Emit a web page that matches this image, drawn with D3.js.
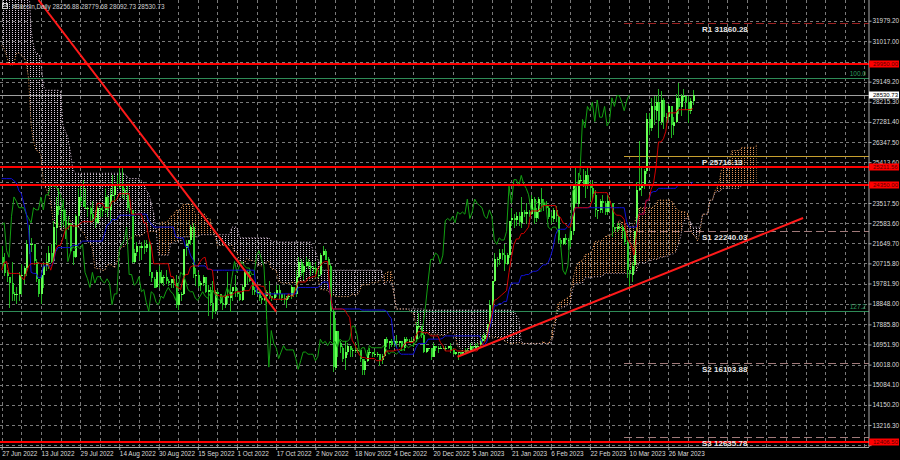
<!DOCTYPE html>
<html><head><meta charset="utf-8">
<script src="https://cdn.jsdelivr.net/npm/d3@7"></script>
<style>
html,body{margin:0;padding:0;background:#000;}
svg{display:block;}
text{font-family:"Liberation Sans",Arial,sans-serif;}
</style></head><body>
<svg id="c" width="900" height="460"></svg>
<script>
// ---------------- DATA (daily bars, thousands of USD) ----------------
const firstDate = "2022-04-10";     // first bar held in the arrays (needed for Ichimoku)
const windowStart = "2022-06-27";   // first bar shown on the chart
const highK = [
 43.4,42.4,40.7,41.5,41.5,40.7,40.7,40.6,41.0,41.7,42.2,42.9,40.8,39.9,39.8,40.6,40.8,39.4,40.3,39.9,38.8,
 38.6,39.1,38.6,39.9,39.8,36.6,36.1,35.5,34.2,32.6,32.0,30.0,31.0,30.3,31.4,31.3,30.8,30.6,30.5,30.7,29.6,30.4,30.6,29.8,30.2,29.8,29.3,29.2,29.5,32.0,32.2,
 31.9,30.6,30.6,29.9,30.1,31.7,31.5,31.3,30.6,30.3,29.4,28.5,26.9,23.0,22.7,22.9,21.3,20.8,20.7,21.0,21.7,20.8,21.2,21.5,21.5,21.8,
 21.5,21.2,20.4,20.1,
 20.8,19.4,19.6,20.3,20.7,20.6,21.8,22.5,21.9,21.6,20.9,20.0,20.2,20.8,21.2,21.5,21.6,22.7,23.8,24.2,23.4,23.7,23.0,22.9,22.6,21.3,23.0,24.2,24.4,24.6,24.2,
 23.4,23.4,23.6,23.2,23.4,23.3,23.4,24.2,23.9,24.2,24.8,24.4,24.8,25.2,25.2,24.2,24.4,23.6,23.2,21.4,21.7,21.5,21.7,21.8,21.8,21.8,20.3,20.1,20.4,20.6,20.4,
 20.2,20.4,20.0,20.0,20.1,20.2,19.4,19.4,21.4,21.8,21.8,22.5,22.6,20.5,20.3,19.9,20.2,20.1,19.7,19.6,19.9,19.5,19.5,19.3,19.2,19.3,20.3,19.7,19.6,20.2,
 19.5,19.4,19.7,20.4,20.4,20.4,20.0,19.6,19.5,19.5,19.2,19.2,19.5,19.9,19.2,19.4,19.7,19.7,19.3,19.3,19.2,19.3,19.7,19.6,20.4,21.0,20.9,20.7,21.0,20.9,20.8,
 20.6,20.8,20.4,21.2,21.5,21.4,21.0,20.7,18.6,18.1,17.6,17.1,16.9,17.1,17.0,16.9,16.8,17.0,16.8,16.7,16.3,16.3,16.7,16.8,16.6,16.7,16.6,16.5,16.5,17.2,
 17.3,17.1,17.2,17.2,17.4,17.1,17.1,17.3,17.3,17.2,17.3,17.2,18.0,18.4,17.8,17.5,16.8,16.8,16.8,17.0,16.9,16.9,16.9,16.9,16.9,16.9,17.0,16.8,16.6,16.6,16.6,
 16.6,16.8,16.8,17.0,16.9,17.0,17.0,17.2,17.4,17.5,17.9,19.0,19.9,21.2,21.0,21.4,21.4,21.6,21.2,22.7,23.3,23.0,23.1,23.1,23.8,23.2,23.5,23.2,23.9,23.8,23.3,
 23.8,24.2,23.7,23.6,23.4,23.1,23.3,23.4,22.9,21.9,21.9,22.1,21.9,22.3,24.4,25.2,24.9,24.8,25.1,25.0,25.2,24.5,24.6,24.1,23.2,23.7,23.9,23.6,
 23.9,23.8,23.5,22.4,22.6,22.6,22.5,22.3,21.8,20.4,20.8,22.2,24.5,26.4,25.2,25.1,27.7,27.7,28.4,28.5,28.5,28.8,28.7,28.4,27.7,28.1,28.0,27.5,28.6,29.1,28.6,
 28.8,28.5,28.5,28.4,28.77968
];
const lowK = [
 42.0,39.2,39.3,39.6,39.6,39.8,40.0,39.6,38.6,40.6,40.9,39.8,39.2,39.3,39.2,38.2,37.7,37.9,38.9,38.2,37.6,
 37.4,38.1,37.5,37.6,35.6,35.3,34.8,33.7,30.0,29.9,27.9,26.7,28.8,28.7,29.5,29.2,29.5,28.6,28.7,28.8,29.0,29.3,28.9,28.6,29.3,28.3,28.3,28.5,28.8,29.3,31.2,
 29.5,29.6,29.4,29.5,29.5,29.9,29.2,29.9,30.0,28.9,28.2,26.6,22.3,20.8,20.1,20.3,20.2,17.6,19.0,19.7,20.4,19.8,19.9,20.9,20.9,21.0,
 20.5,20.2,19.9,18.7,
 19.0,19.0,18.9,19.0,19.3,19.8,20.2,21.2,21.3,20.7,19.9,19.2,18.9,19.6,20.4,20.5,20.8,20.8,21.6,23.0,22.4,22.5,21.9,22.3,21.3,20.7,21.0,22.6,23.4,23.5,23.3,
 22.9,22.7,22.7,22.4,22.6,22.9,22.9,23.1,22.9,22.7,23.9,23.6,24.3,24.2,23.8,23.7,23.2,23.1,20.8,20.8,21.1,20.9,20.9,21.2,21.3,20.2,19.9,19.6,19.6,19.6,19.8,
 19.7,19.8,19.7,19.6,19.6,18.7,18.6,19.0,19.3,21.1,21.4,21.6,20.1,19.7,19.6,19.5,19.7,19.4,18.3,18.8,18.2,18.4,18.6,18.9,18.6,18.7,18.9,18.5,19.0,19.2,
 19.2,19.0,19.0,19.5,19.8,19.9,19.3,19.3,19.3,19.0,18.9,19.0,18.2,19.1,19.0,19.1,19.2,19.1,19.0,18.9,18.7,19.1,19.1,19.2,19.2,20.1,20.2,20.0,20.6,20.5,20.2,
 20.3,20.1,20.1,20.2,21.1,20.9,20.4,17.2,15.7,15.8,16.4,16.6,16.2,15.8,16.5,16.4,16.4,16.6,16.6,16.2,15.6,15.6,16.2,16.5,16.4,16.4,16.4,16.0,16.1,16.4,
 16.9,16.8,16.9,16.9,16.9,16.9,16.7,16.7,17.1,17.1,17.1,16.9,17.1,17.7,17.3,16.6,16.6,16.7,16.3,16.4,16.7,16.6,16.8,16.8,16.7,16.8,16.6,16.5,16.5,16.3,16.5,
 16.5,16.6,16.6,16.7,16.8,16.8,16.9,16.9,17.1,17.1,17.3,17.9,18.7,19.9,20.6,20.7,20.9,20.4,20.7,21.0,22.5,22.4,22.5,22.5,22.4,22.9,22.6,22.9,23.0,22.6,22.7,
 22.8,23.4,23.2,23.3,22.8,22.6,22.7,22.7,21.7,21.5,21.6,21.6,21.4,21.5,22.1,23.5,23.4,24.5,24.3,23.8,24.2,23.6,23.7,22.9,22.8,23.1,23.1,23.0,
 23.0,23.2,22.0,22.2,22.2,22.3,21.9,21.6,20.1,19.6,19.9,20.4,21.9,24.1,23.9,24.2,24.9,26.7,26.9,27.2,27.4,26.6,27.2,27.0,27.3,27.4,26.6,26.7,27.3,27.7,27.6,
 28.3,27.9,27.3,27.7,28.09273
];
const closeK = [
 42.2,39.5,40.1,41.1,39.9,40.5,40.4,39.7,40.8,41.5,41.4,40.5,39.7,39.5,39.5,40.4,38.1,39.2,39.7,38.6,37.7,
 38.5,38.5,37.7,39.7,36.6,36.0,35.5,34.0,30.1,31.0,29.1,29.0,29.3,29.9,31.3,29.9,30.4,28.7,30.3,29.2,29.4,30.3,29.1,29.7,29.5,29.2,28.6,29.0,29.4,31.7,31.8,
 29.8,30.5,29.7,29.9,29.9,31.4,31.1,30.2,30.1,29.1,28.4,26.6,22.5,22.2,22.6,20.4,20.5,19.0,20.6,20.6,20.7,20.0,21.1,21.2,21.5,21.0,
 20.7,20.3,20.1,19.8,
 19.3,19.3,19.3,20.2,20.2,20.5,21.6,21.6,21.6,20.8,20.0,19.3,20.2,20.6,20.8,21.2,20.8,22.4,23.4,23.2,23.2,22.7,22.5,22.6,21.3,21.0,22.9,23.8,23.6,23.3,23.3,
 23.3,23.0,22.8,22.6,23.3,23.2,23.2,23.8,23.2,23.9,23.9,24.4,24.3,24.3,24.1,23.9,23.3,23.2,20.8,21.2,21.5,21.4,21.5,21.4,21.6,20.3,20.0,19.6,20.3,19.8,20.1,
 20.1,19.9,19.8,20.0,19.8,18.8,19.3,19.3,21.4,21.6,21.8,22.4,20.2,20.2,19.7,19.8,20.1,19.4,19.5,18.9,18.5,19.4,19.3,18.9,18.8,19.2,19.1,19.4,19.6,19.4,
 19.3,19.0,19.6,20.3,20.2,19.9,19.5,19.4,19.4,19.1,19.0,19.2,19.4,19.2,19.1,19.3,19.5,19.3,19.1,19.0,19.2,19.2,19.6,19.3,20.1,20.8,20.3,20.6,20.8,20.6,20.5,
 20.5,20.2,20.2,21.1,21.3,20.9,20.6,18.5,15.9,17.6,17.0,16.8,16.3,16.6,16.9,16.7,16.7,16.7,16.7,16.3,15.8,16.2,16.6,16.6,16.5,16.5,16.5,16.2,16.4,17.2,
 17.0,17.1,16.9,17.1,17.0,17.1,16.8,17.2,17.1,17.1,17.1,17.2,17.8,17.8,17.4,16.6,16.8,16.8,16.4,16.9,16.8,16.8,16.8,16.8,16.8,16.9,16.7,16.5,16.6,16.6,16.5,
 16.6,16.7,16.7,16.9,16.8,16.9,16.9,17.1,17.2,17.4,17.9,18.8,19.9,20.9,20.9,21.2,21.1,20.7,21.1,22.7,22.8,22.7,22.9,22.6,23.1,23.0,23.1,23.0,23.7,22.8,23.1,
 23.7,23.5,23.4,23.3,22.9,22.8,23.2,22.9,21.8,21.6,21.9,21.8,21.8,22.2,24.3,23.5,24.6,24.6,24.3,24.8,24.4,24.2,23.9,23.2,23.2,23.6,23.5,23.1,
 23.6,23.5,22.4,22.3,22.4,22.4,22.2,21.7,20.4,20.2,20.6,22.2,24.1,24.2,24.4,25.0,27.4,27.0,28.0,27.8,28.2,27.3,28.3,27.5,27.5,28.0,27.1,27.3,28.4,28.0,28.5,
 28.5,28.2,27.8,28.25688,28.53073
];
const headerText = "#Bitcoin,Daily  28256.88 28779.68 28092.73 28530.73";
const lastPrice = 28530.73;
const priceTicks = [31979.20,31017.00,30083.10,29149.20,28215.30,27281.40,26347.50,25413.60,24479.70,23517.50,22583.60,21649.70,20715.80,19781.90,18848.00,17885.80,16951.90,16018.00,15084.10,14150.20,13216.30,12282.40];
const dateLabels = ["27 Jun 2022","13 Jul 2022","29 Jul 2022","14 Aug 2022","30 Aug 2022","15 Sep 2022","1 Oct 2022","17 Oct 2022","2 Nov 2022","18 Nov 2022","4 Dec 2022","20 Dec 2022","5 Jan 2023","21 Jan 2023","6 Feb 2023","22 Feb 2023","10 Mar 2023","26 Mar 2023"];
const redLevels = [29950.00, 25211.56, 24350.00, 12406.50];
const fibNames = ["100.0","127.2"];
const fibLevels = [29306, 18505];
const pivotNames = ["R1","P","S1","S2","S3"];
const pivotValues = [31860.28, 25716.13, 22240.03, 16103.88, 12635.78];
const pivotStart = "2023-03-08";
const trendDown = [["2022-07-12", 32940], ["2022-10-17", 18474]];
const trendUp = [["2022-12-30", 16385], ["2023-05-20", 22822]];

// ---------------- SETUP ----------------
const parse = d3.utcParse("%Y-%m-%d");
const OFF = d3.utcDay.count(parse(firstDate), parse(windowStart));
const barOf = s => d3.utcDay.count(parse(windowStart), parse(s));
const highs = highK.map(v => v*1000), lows = lowK.map(v => v*1000), closes = closeK.map(v => v*1000);
const N = closes.length;

const PR = 869, PB = 447; // plot right / bottom
const x = d3.scaleLinear().domain([0, 272]).range([1.7, 668.3]);
const y = d3.scaleLinear().domain([31979.2, 12282.4]).range([20.7, 445.1]);
const px = v => Math.round(v) + 0.5;

const svg = d3.select("#c");
svg.append("rect").attr("width", 900).attr("height", 460).attr("fill", "#000");
const defs = svg.append("defs");
defs.append("clipPath").attr("id", "clip").append("rect").attr("x", 0).attr("y", 0).attr("width", PR).attr("height", PB);
function dotPat(id, col){
  const p = defs.append("pattern").attr("id", id).attr("width", 3).attr("height", 2).attr("patternUnits", "userSpaceOnUse");
  p.append("rect").attr("x",0).attr("y",0).attr("width", 1).attr("height", 1).attr("fill", col);
}
dotPat("pSandy", "#e0955a");
dotPat("pThistle", "#d8c8d8");

const g = svg.append("g").attr("clip-path", "url(#clip)");

// grid
const gridCol = "#7a7a7a";
g.append("g").selectAll("line").data(priceTicks).join("line")
  .attr("x1", 0).attr("x2", PR).attr("y1", d => px(y(d))).attr("y2", d => px(y(d)))
  .attr("stroke", gridCol).attr("stroke-dasharray", "3,3").attr("shape-rendering","crispEdges");
g.append("g").selectAll("line").data(d3.range(0, 360, 8)).join("line")
  .attr("y1", 0).attr("y2", PB).attr("x1", d => px(x(d))).attr("x2", d => px(x(d)))
  .attr("stroke", gridCol).attr("stroke-dasharray", "3,3").attr("shape-rendering","crispEdges");

// ---------------- ICHIMOKU ----------------
function mid(k, p){
  if (k - p + 1 < 0 || k >= N) return null;
  let hi = -Infinity, lo = Infinity;
  for (let j = k - p + 1; j <= k; j++){ hi = Math.max(hi, highs[j]); lo = Math.min(lo, lows[j]); }
  return (hi + lo) / 2;
}
const lastBar = N - 1 - OFF;
const tenkan = [], kijun = [], span = [], chikou = [];
for (let b = 0; b <= lastBar; b++){
  tenkan.push({b, v: mid(b + OFF, 9)});
  kijun.push({b, v: mid(b + OFF, 26)});
}
for (let b = 0; b <= lastBar + 26; b++){
  const k = b + OFF - 26;
  const t = mid(k, 9), kj = mid(k, 26), sb = mid(k, 52);
  if (t === null || kj === null || sb === null) continue;
  span.push({b, a: (t + kj) / 2, s: sb});
}
for (let b = 0; b + OFF + 26 < N; b++) chikou.push({b, v: closes[b + OFF + 26]});

// cloud
g.append("path").datum(span).attr("fill", "url(#pSandy)")
  .attr("d", d3.area().x(d => x(d.b)).y0(d => y(d.s)).y1(d => y(Math.max(d.a, d.s))));
g.append("path").datum(span).attr("fill", "url(#pThistle)")
  .attr("d", d3.area().x(d => x(d.b)).y0(d => y(d.a)).y1(d => y(Math.max(d.a, d.s))));
g.append("path").datum(span).attr("fill", "none").attr("stroke", "#f4a460").attr("stroke-dasharray", "1,2")
  .attr("d", d3.line().x(d => x(d.b)).y(d => y(d.a)));
g.append("path").datum(span).attr("fill", "none").attr("stroke", "#d8bfd8").attr("stroke-dasharray", "1,2")
  .attr("d", d3.line().x(d => x(d.b)).y(d => y(d.s)));

// fib + current price line
fibLevels.forEach((v, i) => {
  g.append("line").attr("x1", 0).attr("x2", PR).attr("y1", px(y(v))).attr("y2", px(y(v)))
    .attr("stroke", "#2e8b57").attr("shape-rendering","crispEdges");
});
g.append("line").attr("x1", 0).attr("x2", PR).attr("y1", px(y(lastPrice))).attr("y2", px(y(lastPrice)))
  .attr("stroke", "#a0a0a0").attr("shape-rendering","crispEdges");

// pivots
const pivColors = ["#9b2020", "#c8a030", "#a07a7a", "#a07a7a", "#a07a7a"];
pivotValues.forEach((v, i) => {
  const ln = g.append("line").attr("x1", x(barOf(pivotStart))).attr("x2", PR).attr("y1", px(y(v))).attr("y2", px(y(v)))
    .attr("stroke", pivColors[i]).attr("shape-rendering","crispEdges");
  if (i !== 1) ln.attr("stroke-dasharray", "8,4");
});

// candles
const bars = [];
for (let b = 0; b <= lastBar; b++){
  const k = b + OFF;
  bars.push({b, o: closes[k-1], h: highs[k], l: lows[k], c: closes[k]});
}
const cg = g.append("g").attr("shape-rendering", "crispEdges");
cg.selectAll("line").data(bars).join("line")
  .attr("x1", d => px(x(d.b))).attr("x2", d => px(x(d.b)))
  .attr("y1", d => Math.round(y(d.h))).attr("y2", d => Math.round(y(d.l)) + 1)
  .attr("stroke", "#22b022");
cg.selectAll("rect").data(bars).join("rect")
  .attr("x", d => Math.round(x(d.b)))
  .attr("width", 2)
  .attr("y", d => Math.round(y(Math.max(d.o, d.c))))
  .attr("height", d => Math.max(1, Math.round(Math.abs(y(d.o) - y(d.c)))))
  .attr("fill", d => d.c >= d.o ? "#66ff55" : "#2fd12f");

// ichimoku lines
const ln = d3.line().defined(d => d.v !== null).x(d => x(d.b)).y(d => y(d.v));
g.append("path").datum(chikou).attr("fill","none").attr("stroke","#12a012").attr("d", ln);
g.append("path").datum(kijun).attr("fill","none").attr("stroke","#1010d8").attr("d", ln);
g.append("path").datum(tenkan).attr("fill","none").attr("stroke","#d00000").attr("d", ln);

// red levels
redLevels.forEach(v => {
  g.append("line").attr("x1", 0).attr("x2", PR).attr("y1", Math.round(y(v))).attr("y2", Math.round(y(v)))
    .attr("stroke", "#ff0000").attr("stroke-width", 2).attr("shape-rendering","crispEdges");
});

// trend lines
[trendDown, trendUp].forEach(t => {
  g.append("line")
    .attr("x1", x(barOf(t[0][0]))).attr("y1", y(t[0][1]))
    .attr("x2", x(barOf(t[1][0]))).attr("y2", y(t[1][1]))
    .attr("stroke", "#ff1a1a").attr("stroke-width", 2);
});

// pivot labels
pivotValues.forEach((v, i) => {
  g.append("text").attr("x", 702).attr("y", y(v) + 9)
    .attr("fill", "#e6e6e6").attr("font-family", "'DejaVu Sans Mono', monospace")
    .attr("font-size", "8px").attr("font-weight", "bold")
    .text(pivotNames[i] + " " + d3.format(".2f")(v));
});
// fib labels
fibLevels.forEach((v, i) => {
  g.append("text").attr("x", 866).attr("y", y(v) - 2).attr("text-anchor", "end")
    .attr("fill", "#2e9b5e").attr("font-size", "6.5px").text(fibNames[i]);
});

// ---------------- AXES ----------------
const fs = "6.4px";
// tick labels that sit under a price tag are covered by it (as on the terminal)
const tagValues = redLevels.concat([lastPrice]);
const covered = d => tagValues.some(v => Math.abs(y(v) - y(d)) < 3.2);
const ya = svg.append("g").attr("transform", `translate(${PR - 0.5},0)`)
  .call(d3.axisRight(y).tickValues(priceTicks).tickSize(3).tickFormat(d => covered(d) ? "" : d3.format(".2f")(d)));
ya.select(".domain").attr("stroke", "#a8a8a8").attr("d", `M0.5,0V${PB}`);
ya.selectAll(".tick line").attr("stroke", "#a8a8a8");
ya.selectAll(".tick text").attr("fill", "#dcdcdc").attr("font-size", fs).attr("x", 4)
  .attr("font-family", "'Liberation Sans',Arial,sans-serif");

const dateBars = dateLabels.map((s, i) => i * 16);
const xa = svg.append("g").attr("transform", `translate(0,${PB})`)
  .call(d3.axisBottom(x).tickValues(dateBars).tickSize(3).tickFormat((d, i) => dateLabels[i]));
xa.select(".domain").attr("stroke", "#a8a8a8").attr("d", `M0,0.5H${PR}`);
xa.selectAll(".tick line").attr("stroke", "#a8a8a8");
xa.selectAll(".tick text").attr("fill", "#dcdcdc").attr("font-size", fs).attr("text-anchor", "start")
  .attr("x", 0).attr("y", 4).attr("font-family", "'Liberation Sans',Arial,sans-serif");

// price tags
function tag(v, bg, fg){
  const yy = Math.round(y(v));
  svg.append("rect").attr("x", PR).attr("y", yy - 3.5).attr("width", 30).attr("height", 7).attr("fill", bg);
  svg.append("text").attr("x", PR + 4).attr("y", yy).attr("dy", "0.35em").attr("fill", fg)
    .attr("font-size", "6px").text(d3.format(".2f")(v));
}
redLevels.forEach(v => tag(v, "#ff0000", "#5a0000"));
tag(lastPrice, "#ffffff", "#000000");

// header
svg.append("rect").attr("x", 2.5).attr("y", 3.5).attr("width", 5).attr("height", 5).attr("fill", "none").attr("stroke", "#cfcfcf");
svg.append("line").attr("x1", 3.5).attr("x2", 7.5).attr("y1", 6).attr("y2", 6).attr("stroke", "#cfcfcf");
svg.append("text").attr("x", 12).attr("y", 8.5).attr("fill", "#d0d0d0").attr("font-size", fs).text(headerText);
</script>
</body></html>
